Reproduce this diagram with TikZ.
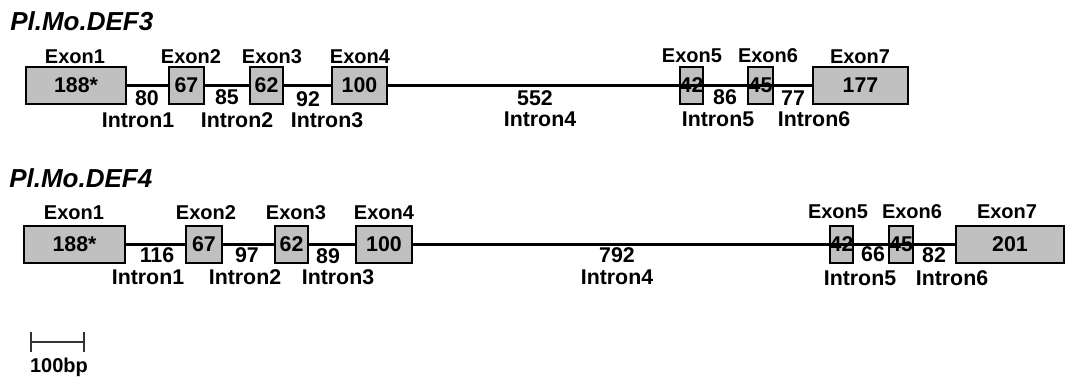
\documentclass[tikz,border=0pt]{standalone}
\usepackage{fontspec}
\setmainfont{Liberation Sans}
\definecolor{exongray}{RGB}{192,192,192}
\begin{document}
\begin{tikzpicture}[x=0.75pt,y=-0.75pt,
  lbl/.style={font=\bfseries\fontsize{16}{18}\selectfont, inner sep=0pt},
  exlbl/.style={font=\bfseries\fontsize{15}{17}\selectfont, inner sep=0pt},
  genetitle/.style={font=\bfseries\itshape\fontsize{19.5}{21}\selectfont, inner sep=0pt, anchor=west},
  exon/.style={draw=black, line width=1.9pt, fill=exongray, minimum height=27.5pt,
    minimum width=#1*0.75pt, inner sep=0pt, font=\bfseries\fontsize{16}{18}\selectfont},
  intron/.style={line width=1.6pt},
  scalebar/.style={line width=1.1pt, draw=black!80}
]
\useasboundingbox (0,0) rectangle (1067,376);

% ---------------- Pl.Mo.DEF3 ----------------
\node[genetitle] (t3) at (10,21) {Pl.Mo.DEF3};

\node[exon=100] (a1) at (76,85.5)   {188*};
\node[exon=35]  (a2) at (186.5,85.5) {67};
\node[exon=33]  (a3) at (266.5,85.5) {62};
\node[exon=55]  (a4) at (359.5,85.5) {100};
\node[exon=23]  (a5) at (691.5,85.5) {};
\node[exon=25]  (a6) at (760.5,85.5) {};
\node[exon=95]  (a7) at (860.5,85.5) {177};

\draw[intron] (a1.east) -- (a2.west);
\draw[intron] (a2.east) -- (a3.west);
\draw[intron] (a3.east) -- (a4.west);
\draw[intron] (a4.east) -- (a5.west) -- (a5.east) -- (a6.west) -- (a6.east) -- (a7.west);
\node[lbl] (a5n) at (a5) {42};
\node[lbl] (a6n) at (a6) {45};

\node[exlbl] (ax1) at (75,57)  {Exon1};
\node[exlbl] (ax2) at (191,57) {Exon2};
\node[exlbl] (ax3) at (272,57) {Exon3};
\node[exlbl] (ax4) at (360,57) {Exon4};
\node[exlbl] (ax5) at (692,56) {Exon5};
\node[exlbl] (ax6) at (768,56) {Exon6};
\node[exlbl] (ax7) at (860,57) {Exon7};

\node[lbl] (al1) at (147,98)  {80};
\node[lbl] (al2) at (227,97)  {85};
\node[lbl] (al3) at (308,99)  {92};
\node[lbl] (al4) at (535,98)  {552};
\node[lbl] (al5) at (725,97)  {86};
\node[lbl] (al6) at (793,98)  {77};

\node[lbl] (ai1) at (138,120) {Intron1};
\node[lbl] (ai2) at (237,120) {Intron2};
\node[lbl] (ai3) at (327,120) {Intron3};
\node[lbl] (ai4) at (540,119) {Intron4};
\node[lbl] (ai5) at (718,119) {Intron5};
\node[lbl] (ai6) at (814,119) {Intron6};

% ---------------- Pl.Mo.DEF4 ----------------
\node[genetitle] (t4) at (9,178) {Pl.Mo.DEF4};

\node[exon=101] (b1) at (74.5,244.5) {188*};
\node[exon=36]  (b2) at (204,244.5)  {67};
\node[exon=33]  (b3) at (291.5,244.5) {62};
\node[exon=56]  (b4) at (384,244.5)  {100};
\node[exon=23]  (b5) at (841.5,244.5) {};
\node[exon=24]  (b6) at (901,244.5)  {};
\node[exon=108] (b7) at (1010,244.5) {201};

\draw[intron] (b1.east) -- (b2.west);
\draw[intron] (b2.east) -- (b3.west);
\draw[intron] (b3.east) -- (b4.west);
\draw[intron] (b4.east) -- (b5.west) -- (b5.east) -- (b6.west) -- (b6.east) -- (b7.west);
\node[lbl] (b5n) at (b5) {42};
\node[lbl] (b6n) at (b6) {45};

\node[exlbl] (bx1) at (74,213)   {Exon1};
\node[exlbl] (bx2) at (206,213)  {Exon2};
\node[exlbl] (bx3) at (296,213)  {Exon3};
\node[exlbl] (bx4) at (384,213)  {Exon4};
\node[exlbl] (bx5) at (838,212)  {Exon5};
\node[exlbl] (bx6) at (912,212)  {Exon6};
\node[exlbl] (bx7) at (1007,212) {Exon7};

\node[lbl] (bl1) at (157,255) {116};
\node[lbl] (bl2) at (247,255) {97};
\node[lbl] (bl3) at (328,256) {89};
\node[lbl] (bl4) at (617,255) {792};
\node[lbl] (bl5) at (873,254) {66};
\node[lbl] (bl6) at (934,255) {82};

\node[lbl] (bi1) at (148,277) {Intron1};
\node[lbl] (bi2) at (245,277) {Intron2};
\node[lbl] (bi3) at (338,277) {Intron3};
\node[lbl] (bi4) at (617,277) {Intron4};
\node[lbl] (bi5) at (860,278) {Intron5};
\node[lbl] (bi6) at (952,278) {Intron6};

% ---------------- scale bar ----------------
\coordinate (s1) at (31,342);
\coordinate (s2) at (84,342);
\draw[scalebar] (s1) -- (s2);
\draw[scalebar] ([yshift=-7.5pt]s1) -- ([yshift=7.5pt]s1);
\draw[scalebar] ([yshift=-7.5pt]s2) -- ([yshift=7.5pt]s2);
\node[exlbl, anchor=base] (sbl) at (59,372) {100bp};
\end{tikzpicture}
\end{document}
